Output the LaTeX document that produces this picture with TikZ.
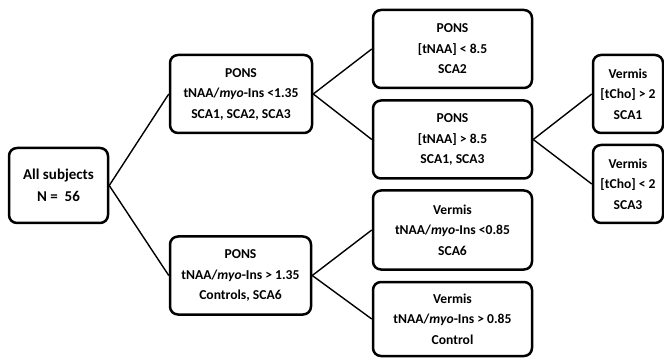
\documentclass[tikz,border=0pt]{standalone}
\usepackage{fontspec}
\setmainfont{Carlito}
\begin{document}
\begin{tikzpicture}[x=1pt,y=-1pt,
  box/.style={draw=black, line width=2.5pt, rounded corners=8pt, fill=white,
    align=center, inner sep=0pt,
    font=\bfseries\fontsize{13.6}{20.5}\selectfont},
  link/.style={draw=black, line width=1.4pt}]
\useasboundingbox (0,0) rectangle (664,358);

% root
\node[box, minimum width=99pt, minimum height=75pt,
  font=\bfseries\fontsize{15}{22}\selectfont] (all) at (58.5,185.5)
  {All subjects\\N =\ \ 56};

% first split on the pons ratio
\node[box, minimum width=142pt, minimum height=78pt] (p1) at (241,94)
  {PONS\\tNAA/\textit{myo}-Ins <1.35\\SCA1, SCA2, SCA3};
\node[box, minimum width=141pt, minimum height=78pt] (p2) at (240.5,275.5)
  {PONS\\tNAA/\textit{myo}-Ins > 1.35\\Controls, SCA6};

% second level
\node[box, minimum width=159pt, minimum height=78pt] (a1) at (452.5,49)
  {PONS\\{[}tNAA{]} < 8.5\\SCA2};
\node[box, minimum width=159pt, minimum height=78pt] (a2) at (452.5,139.5)
  {PONS\\{[}tNAA{]} > 8.5\\SCA1, SCA3};
\node[box, minimum width=159pt, minimum height=79pt] (b1) at (452.5,230)
  {Vermis\\tNAA/\textit{myo}-Ins <0.85\\SCA6};
\node[box, minimum width=159pt, minimum height=74pt] (b2) at (452.5,319)
  {Vermis\\tNAA/\textit{myo}-Ins > 0.85\\Control};

% third level
\node[box, minimum width=70pt, minimum height=78pt] (v1) at (628,94)
  {Vermis\\{[}tCho{]} > 2\\SCA1};
\node[box, minimum width=70pt, minimum height=78pt] (v2) at (628,184)
  {Vermis\\{[}tCho{]} < 2\\SCA3};

% connectors
\draw[link] (all.east) -- (p1.west);
\draw[link] (all.east) -- (p2.west);
\draw[link] (p1.east) -- (a1.west);
\draw[link] (p1.east) -- (a2.west);
\draw[link] (p2.east) -- (b1.west);
\draw[link] (p2.east) -- (b2.west);
\draw[link] (a2.east) -- (v1.west);
\draw[link] (a2.east) -- (v2.west);
\end{tikzpicture}
\end{document}
